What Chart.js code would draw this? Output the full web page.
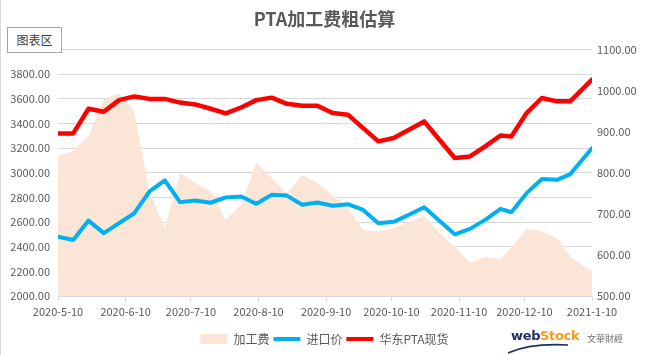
<!DOCTYPE html>
<html>
<head>
<meta charset="utf-8">
<script src="https://cdn.jsdelivr.net/npm/chart.js@4.4.1/dist/chart.umd.min.js"></script>
<style>
  html, body { margin: 0; padding: 0; background: #ffffff; }
  #wrap { position: relative; width: 649px; height: 355px; overflow: hidden; }
  #c { position: absolute; left: 0; top: 0; }
  #edge { position: absolute; left: 0; top: 0; width: 1px; height: 355px; background: #d9d9d9; }
  #tag { position: absolute; left: 7px; top: 27px; width: 53px; height: 24px; border: 1px solid #a6a6a6; background: #fff;
         font: 12px "Noto Sans CJK SC", sans-serif; color: #404040; line-height: 24px; text-align: center; }
  .lg { position: absolute; white-space: nowrap; }
</style>
</head>
<body>
<div id="wrap">
  <canvas id="c" width="649" height="355"></canvas>
  <div id="edge"></div>
  <div id="tag">图表区</div>
  <span class="lg" style="left:511px;top:328px;font:bold 13px 'DejaVu Sans';color:#1d2f64;letter-spacing:-0.3px;line-height:16px;">web</span>
  <span class="lg" style="left:540px;top:328px;font:bold 13px 'DejaVu Sans';color:#f39a1e;letter-spacing:-0.3px;line-height:16px;">Stock</span>
  <span class="lg" style="left:587px;top:333px;font:9px 'Noto Sans CJK TC';color:#6b6b6b;line-height:12px;">文華財經</span>
  <svg style="position:absolute;left:0;top:0" width="649" height="355">
    <path d="M508 353 Q530 343 568 345" stroke="#1d2f64" stroke-width="1.6" fill="none"/>
  </svg>
</div>
<script>
// ---- data ----
const dates = ['2020-05-10','2020-05-17','2020-05-24','2020-05-31','2020-06-07','2020-06-14','2020-06-21','2020-06-28',
  '2020-07-05','2020-07-12','2020-07-19','2020-07-26','2020-08-02','2020-08-09','2020-08-16','2020-08-23','2020-08-30',
  '2020-09-06','2020-09-13','2020-09-20','2020-09-27','2020-10-04','2020-10-11','2020-10-18','2020-10-25',
  '2020-11-01','2020-11-08','2020-11-15','2020-11-22','2020-11-29','2020-12-04','2020-12-11','2020-12-18',
  '2020-12-25','2020-12-31','2021-01-10'];
const fee = [841,854,890,980,993,950,752,665,799,775,755,685,722,825,787,750,795,775,746,714,661,657,665,680,695,
  653,620,581,595,590,618,663,657,641,596,559];
const importPrice = [2482,2455,2612,2510,2591,2672,2850,2938,2762,2775,2757,2800,2808,2748,2821,2815,2740,2759,2732,
  2745,2699,2591,2602,2660,2721,2611,2501,2545,2618,2707,2680,2835,2949,2943,2989,3200];
const spot = [3320,3320,3520,3495,3590,3620,3600,3600,3570,3555,3520,3482,3530,3590,3610,3560,3545,3545,3485,3472,
  3363,3255,3283,3350,3417,3268,3120,3133,3214,3303,3295,3485,3607,3580,3580,3756];
const tickDates = ['2020-05-10','2020-06-10','2020-07-10','2020-08-10','2020-09-10','2020-10-10','2020-11-10','2020-12-10','2021-01-10'];
const tickLabels = ['2020-5-10','2020-6-10','2020-7-10','2020-8-10','2020-9-10','2020-10-10','2020-11-10','2020-12-10','2021-1-10'];
const seriesNames = ['加工费','进口价','华东PTA现货'];
const titleText = 'PTA加工费粗估算';

// ---- helpers ----
const t0 = Date.parse(tickDates[0]);
const day = d => Math.round((Date.parse(d) - t0) / 86400000);
const xs = dates.map(day);
const tickOffsets = tickDates.map(day);
const pts = arr => arr.map((v, i) => ({x: xs[i], y: v}));

const FONT = '"Noto Sans CJK SC", "Noto Sans", sans-serif';
const GRAY = '#595959';
const colors = ['#fbe5d6', '#00b0f0', '#ff0000'];

new Chart(document.getElementById('c'), {
  type: 'line',
  data: {
    datasets: [
      { label: seriesNames[0], data: pts(fee), yAxisID: 'y1', fill: 'start', backgroundColor: colors[0],
        borderWidth: 0, borderColor: 'rgba(0,0,0,0)', pointRadius: 0, tension: 0 },
      { label: seriesNames[1], data: pts(importPrice), yAxisID: 'y', fill: false, borderColor: colors[1],
        borderWidth: 4, pointRadius: 0, tension: 0, borderJoinStyle: 'round', borderCapStyle: 'round' },
      { label: seriesNames[2], data: pts(spot), yAxisID: 'y', fill: false, borderColor: colors[2],
        borderWidth: 4.5, pointRadius: 0, tension: 0, borderJoinStyle: 'round', borderCapStyle: 'round' }
    ]
  },
  options: {
    responsive: false,
    animation: false,
    events: [],
    devicePixelRatio: 1,
    layout: { padding: { left: 0, right: 0, top: 0, bottom: 0 } },
    scales: {
      x: {
        type: 'linear',
        min: tickOffsets[0],
        max: tickOffsets[tickOffsets.length - 1],
        afterBuildTicks: s => { s.ticks = tickOffsets.map(v => ({ value: v })); },
        afterFit: s => { s.height = 33; },
        grid: { display: true, drawOnChartArea: false, drawTicks: true, tickLength: 5, color: '#d9d9d9' },
        border: { display: true, color: '#d9d9d9' },
        ticks: {
          autoSkip: false, maxRotation: 0, minRotation: 0, padding: 4,
          font: { family: FONT, size: 11 }, color: GRAY,
          callback: v => { const k = tickOffsets.indexOf(v); return k >= 0 ? tickLabels[k] : ''; }
        }
      },
      y: {
        position: 'left',
        min: 2000, max: 4000,
        afterBuildTicks: s => { const t = []; for (let v = 2000; v <= 4000; v += 200) t.push({ value: v }); s.ticks = t; },
        afterFit: s => { s.width = 58; },
        grid: { color: '#d9d9d9', drawTicks: false, lineWidth: 1 },
        border: { display: false },
        ticks: { padding: 8, font: { family: FONT, size: 11 }, color: GRAY,
                 callback: v => (v === 4000 ? '' : v.toFixed(2)) }
      },
      y1: {
        position: 'right',
        min: 500, max: 1100,
        afterBuildTicks: s => { const t = []; for (let v = 500; v <= 1100; v += 100) t.push({ value: v }); s.ticks = t; },
        afterFit: s => { s.width = 57; },
        grid: { drawOnChartArea: false, drawTicks: false },
        border: { display: false },
        ticks: { padding: 5, font: { family: FONT, size: 11 }, color: GRAY, callback: v => v.toFixed(2) }
      }
    },
    plugins: {
      filler: { drawTime: 'beforeDatasetsDraw' },
      tooltip: { enabled: false },
      title: {
        display: true, text: titleText, color: GRAY,
        font: { family: FONT, size: 18, weight: 'bold' },
        padding: { top: 8, bottom: 20 }
      },
      legend: {
        display: true, position: 'bottom', align: 'center',
        labels: {
          usePointStyle: true, pointStyleWidth: 27, boxHeight: 10, padding: 4,
          font: { family: FONT, size: 12 }, color: GRAY,
          generateLabels: chart => chart.data.datasets.map((ds, i) => ({
            text: ds.label,
            fillStyle: colors[i],
            strokeStyle: colors[i],
            lineWidth: i === 0 ? 0 : 4,
            lineCap: 'butt',
            pointStyle: i === 0 ? 'rect' : 'line',
            hidden: false,
            datasetIndex: i,
            fontColor: GRAY
          }))
        }
      }
    }
  }
});
</script>
</body>
</html>
